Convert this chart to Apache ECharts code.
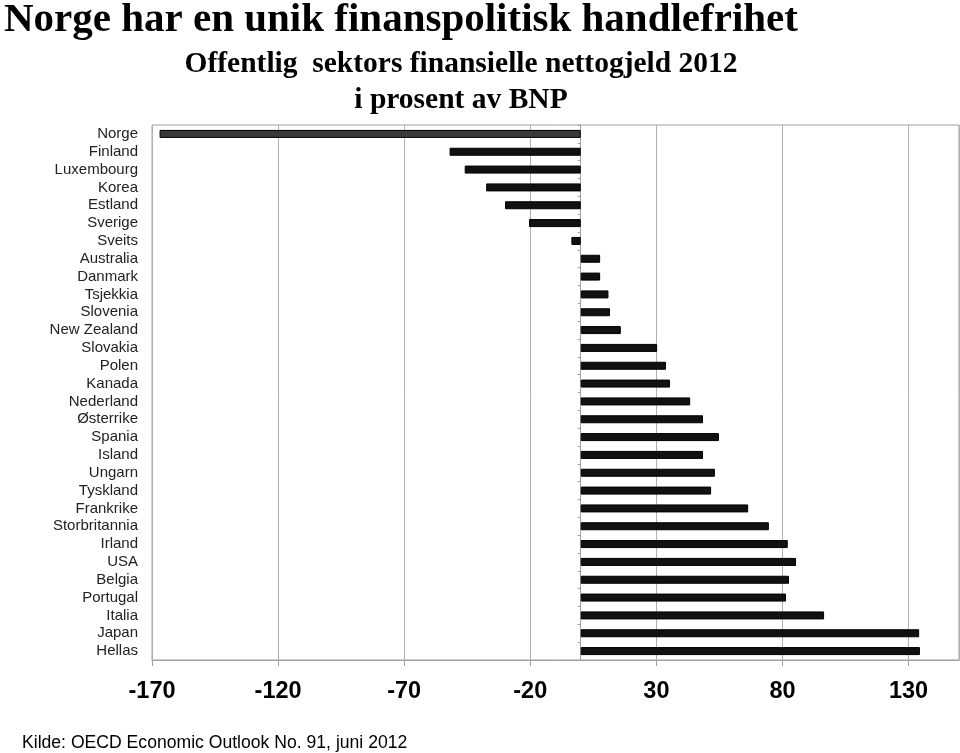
<!DOCTYPE html>
<html>
<head>
<meta charset="utf-8">
<script src="https://cdn.jsdelivr.net/npm/echarts@6/dist/echarts.min.js"></script>
<style>html,body{margin:0;padding:0;background:#fff}#c{width:960px;height:753px}</style>
</head>
<body>
<div id="c"></div>
<script>
const categories = ['Norge','Finland','Luxembourg','Korea','Estland','Sverige','Sveits','Australia','Danmark','Tsjekkia','Slovenia','New Zealand','Slovakia','Polen','Kanada','Nederland','Østerrike','Spania','Island','Ungarn','Tyskland','Frankrike','Storbritannia','Irland','USA','Belgia','Portugal','Italia','Japan','Hellas'];
const values = [-167, -52, -46, -37.5, -30, -20.5, -3.7, 7.7, 7.7, 11, 11.6, 15.9, 30.3, 33.8, 35.4, 43.4, 48.5, 54.8, 48.5, 53.2, 51.7, 66.4, 74.6, 82.1, 85.4, 82.6, 81.4, 96.5, 134.2, 134.5];
const xTicks = {min: -170, max: 150, step: 50};
const mainTitle = 'Norge har en unik finanspolitisk handlefrihet';
const subTitle = ['Offentlig  sektors finansielle nettogjeld 2012', 'i prosent av BNP'];
const source = 'Kilde: OECD Economic Outlook No. 91, juni 2012';

const chart = echarts.init(document.getElementById('c'), null, {renderer: 'canvas'});
const serif = '"Liberation Serif", "Times New Roman", serif';
const sans = '"Liberation Sans", Arial, sans-serif';
chart.setOption({
  animation: false,
  backgroundColor: '#fff',
  graphic: [
    {type: 'text', left: 4, top: 0, style: {text: mainTitle, font: 'bold 41px ' + serif, fill: '#000'}},
    {type: 'text', x: 461, y: 46, style: {text: subTitle.join('\n'), font: 'bold 29.5px ' + serif, fill: '#000', textAlign: 'center', lineHeight: 36}},
    {type: 'text', left: 22, top: 734, style: {text: source, font: '17.6px ' + sans, fill: '#000'}}
  ],
  grid: {left: 152, right: 1, top: 125, bottom: 93, show: true, borderColor: '#a0a0a0', borderWidth: 1, containLabel: false},
  xAxis: {
    type: 'value', min: xTicks.min, max: xTicks.max, interval: xTicks.step,
    axisLine: {show: true, lineStyle: {color: '#a0a0a0', width: 1}},
    axisTick: {show: true, length: 6, lineStyle: {color: '#a0a0a0'}},
    axisLabel: {showMaxLabel: false, margin: 20, fontFamily: sans, fontWeight: 'bold', fontSize: 23.5, color: '#000'},
    splitLine: {show: true, lineStyle: {color: '#b0b0b0', width: 1}}
  },
  yAxis: [
    {
      type: 'category', data: categories, inverse: true,
      axisLine: {show: false, onZero: false},
      axisTick: {show: false},
      axisLabel: {interval: 0, margin: 14, fontFamily: sans, fontSize: 15, color: '#222'}
    },
    {
      type: 'category', data: categories, inverse: true, position: 'left',
      axisLine: {show: true, onZero: true, lineStyle: {color: '#a0a0a0'}},
      axisTick: {show: true, interval: 0, length: 3, lineStyle: {color: '#a0a0a0'}},
      axisLabel: {show: false}
    }
  ],
  series: [{
    type: 'bar',
    yAxisIndex: 0,
    barWidth: 8,
    data: values.map((v, i) => ({value: v, itemStyle: {color: i === 0 ? '#3a3a3a' : '#111', borderColor: '#000', borderWidth: 1}}))
  }]
});
</script>
</body>
</html>
